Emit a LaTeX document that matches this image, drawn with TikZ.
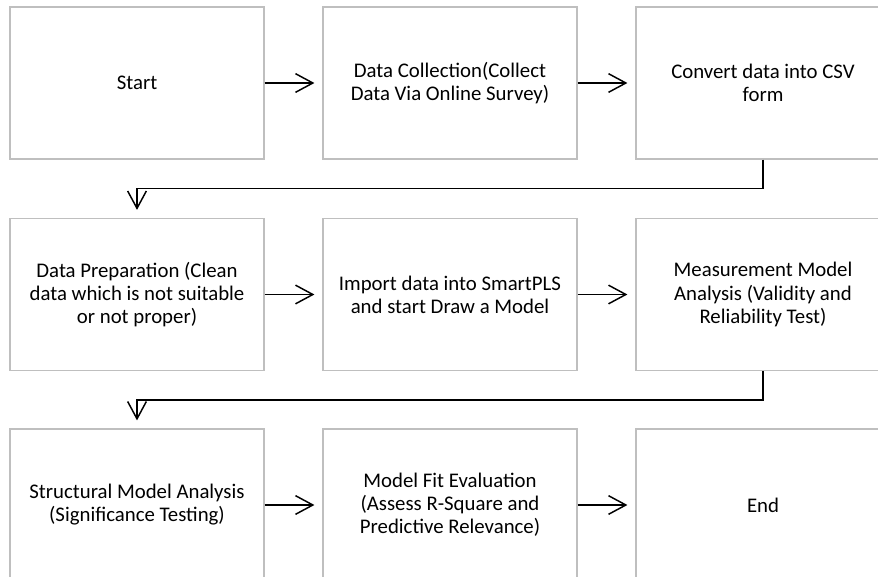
\documentclass[tikz,border=0pt]{standalone}
\usepackage{fontspec}
\setmainfont{Carlito}
\usetikzlibrary{arrows.meta}
\definecolor{boxgray}{HTML}{BFBFBF}
\begin{document}
\begin{tikzpicture}[x=0.75pt,y=-0.75pt,
  stepbox/.style={draw=boxgray,line width=0.9pt,fill=white,minimum width=190.5pt,minimum height=114pt,
    align=center,inner sep=2pt,font=\fontsize{15.6pt}{17.3pt}\selectfont},
  arr/.style={draw=black,line width=1.1pt,-{Straight Barb[length=13pt,width=14pt,line width=1.1pt]},shorten >=6pt}]
\useasboundingbox (0,0) rectangle (878,577);
\clip (0,0) rectangle (878,577);
\node[stepbox] (b1) at (137,83) {Start};
\node[stepbox] (b2) at (450,83) {Data Collection(Collect\\Data Via Online Survey)};
\node[stepbox] (b3) at (763,83) {Convert data into CSV\\form};
\node[stepbox] (b4) at (137,294.5) {Data Preparation (Clean\\data which is not suitable\\or not proper)};
\node[stepbox] (b5) at (450,294.5) {Import data into SmartPLS\\and start Draw a Model};
\node[stepbox] (b6) at (763,294.5) {Measurement Model\\Analysis (Validity and\\Reliability Test)};
\node[stepbox] (b7) at (137,505) {Structural Model Analysis\\(Significance Testing)};
\node[stepbox] (b8) at (450,505) {Model Fit Evaluation\\(Assess R-Square and\\Predictive Relevance)};
\node[stepbox] (b9) at (763,505) {End};
\draw[arr] (b1) -- (b2);
\draw[arr] (b2) -- (b3);
\draw[arr] (b4) -- (b5);
\draw[arr] (b5) -- (b6);
\draw[arr] (b7) -- (b8);
\draw[arr] (b8) -- (b9);
\draw[arr] (b3.south) -- ++(0,29) -| (b4.north);
\draw[arr] (b6.south) -- ++(0,29) -| (b7.north);
\end{tikzpicture}
\end{document}
